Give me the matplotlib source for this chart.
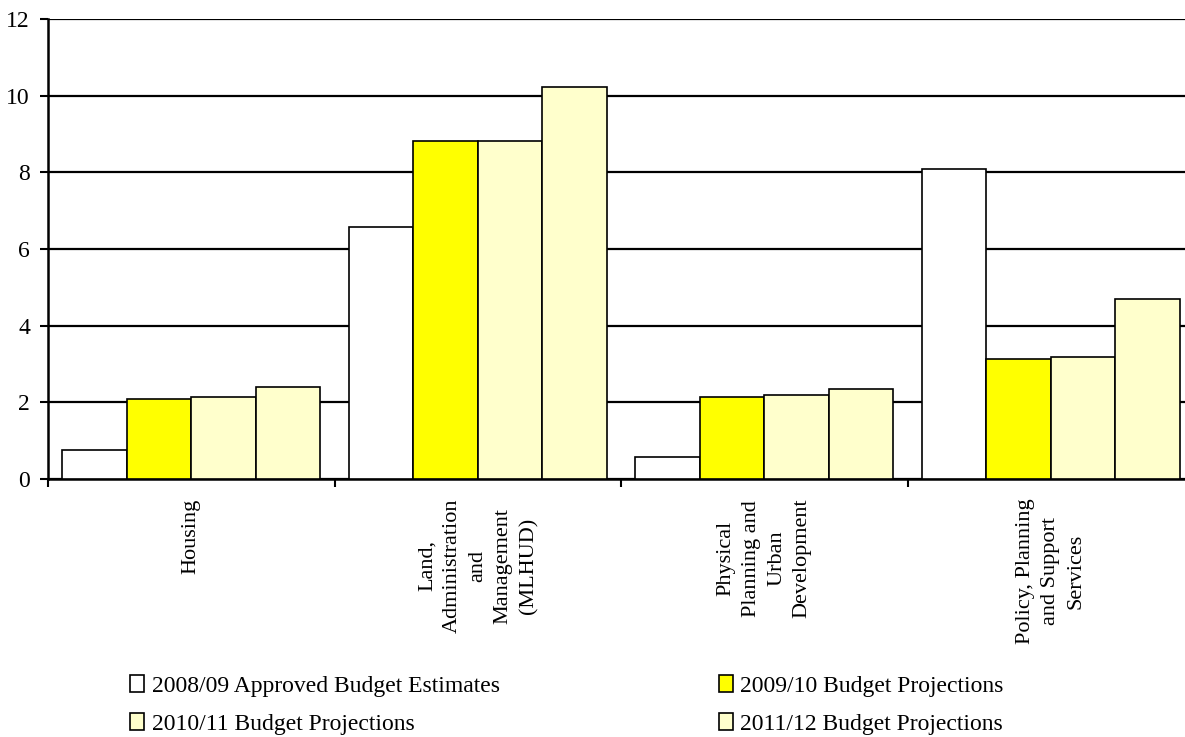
import matplotlib.pyplot as plt
import numpy as np

# categories and series values
categories = ["Housing",
              "Land,\nAdministration\nand\nManagement\n(MLHUD)",
              "Physical\nPlanning and\nUrban\nDevelopment",
              "Policy, Planning\nand Support\nServices"]
series_names = ["2008/09 Approved Budget Estimates",
                "2009/10 Budget Projections",
                "2010/11 Budget Projections",
                "2011/12 Budget Projections"]
approved_0809 = [0.75, 6.57, 0.57, 8.09]
proj_0910 = [2.10, 8.82, 2.15, 3.13]
proj_1011 = [2.15, 8.82, 2.20, 3.19]
proj_1112 = [2.40, 10.23, 2.35, 4.70]
colors = ["#FFFFFF", "#FFFF00", "#FFFFCC", "#FFFFCC"]

plt.rcParams['font.family'] = ['Liberation Serif', 'DejaVu Serif']

fig = plt.figure(figsize=(11.85, 7.37), dpi=100)
ax = fig.add_axes([48 / 1185, 258 / 737, 1146 / 1185, 460 / 737])

x = np.arange(len(categories))
width = 0.225
values = [approved_0809, proj_0910, proj_1011, proj_1112]
bars = []
for i, vals in enumerate(values):
    b = ax.bar(x + (i - 1.5) * width, vals, width, color=colors[i],
               edgecolor="black", linewidth=1.2, zorder=3)
    bars.append(b)

# axes styling
ax.set_xlim(-0.5, 3.5)
ax.set_ylim(0, 12)
ax.set_yticks(np.arange(0, 13, 2))
ax.yaxis.grid(True, color="black", linewidth=1.6, zorder=0)
ax.set_axisbelow(True)
for s in ["top", "right"]:
    ax.spines[s].set_visible(False)
ax.spines["left"].set_linewidth(1.8)
ax.spines["bottom"].set_linewidth(1.8)
ax.tick_params(axis="y", length=6, width=1.5, pad=7, labelsize=17)

ax.set_xticks(x)
ax.set_xticklabels(categories, rotation=90, ha="center", va="top",
                   multialignment="center", fontsize=16, linespacing=1.45)
ax.tick_params(axis="x", which="major", length=0, pad=14)
ax.set_xticks(np.arange(-0.5, 4, 1), minor=True)
ax.tick_params(axis="x", which="minor", length=6, width=1.5)

# legend: row 1 = series 1, 2 ; row 2 = series 3, 4
order = [0, 2, 1, 3]
fig.legend([bars[i] for i in order], [series_names[i] for i in order],
           ncol=2, loc="upper left", bbox_to_anchor=(109 / 1185, 1 - 654 / 737),
           frameon=False, fontsize=17, handlelength=0.6, handleheight=0.7,
           handletextpad=0.3, columnspacing=9.3, labelspacing=0.7)

plt.savefig("out.png", dpi=100)
